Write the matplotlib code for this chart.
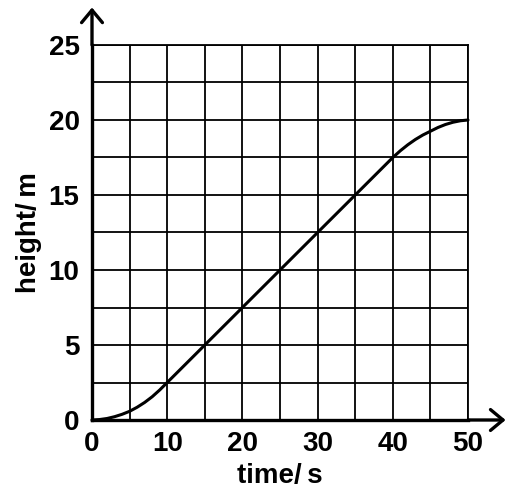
import matplotlib.pyplot as plt

# time (s) and height (m)
time = [0, 1, 2, 3, 4, 5, 6, 7, 8, 9, 10, 15, 20, 25, 30, 35, 40,
        41, 42, 43, 44, 45, 46, 47, 48, 49, 50]
height = [0, 0.03, 0.1, 0.22, 0.38, 0.58, 0.85, 1.17, 1.55, 2.0, 2.5, 5.0, 7.5, 10.0, 12.5, 15.0, 17.5,
          17.95, 18.35, 18.7, 19.0, 19.25, 19.5, 19.7, 19.85, 19.95, 20.0]

xticks = [0, 10, 20, 30, 40, 50]
yticks = [0, 5, 10, 15, 20, 25]

plt.rcParams['font.family'] = ['Liberation Sans', 'DejaVu Sans']
plt.rcParams['font.weight'] = 'bold'
plt.rcParams['axes.labelweight'] = 'bold'

fig = plt.figure(figsize=(5.11, 4.94), dpi=100)
ax = fig.add_axes([92 / 511, 74 / 494, 376 / 511, 375 / 494])

ax.plot(time, height, color='black', lw=2.2, solid_capstyle='round', clip_on=False, zorder=3)

ax.set_xlim(0, 50)
ax.set_ylim(0, 25)
ax.set_xticks(xticks, [str(v) for v in xticks])
ax.set_xticks(range(5, 50, 10), minor=True)
ax.set_yticks(yticks, [str(v) for v in yticks])
ax.set_yticks([2.5 + 5 * i for i in range(5)], minor=True)
ax.grid(True, which='both', color='black', lw=1.3)
ax.tick_params(which='both', length=0)
ax.tick_params(labelsize=20)
ax.tick_params(axis='x', pad=8)
ax.tick_params(axis='y', pad=9)

for s in ['top', 'right']:
    ax.spines[s].set_linewidth(1.3)
for s in ['left', 'bottom']:
    ax.spines[s].set_linewidth(2.4)

# arrows on the axes
head = '->,head_length=0.9,head_width=0.75'
ax.annotate('', xy=(1.1, 0), xytext=(1.0, 0), xycoords='axes fraction',
            arrowprops=dict(arrowstyle=head, lw=2.4, color='black', shrinkA=0, shrinkB=0))
ax.annotate('', xy=(0, 1.1), xytext=(0, 1.0), xycoords='axes fraction',
            arrowprops=dict(arrowstyle=head, lw=2.4, color='black', shrinkA=0, shrinkB=0))

ax.set_xlabel('time/\u2009s', fontsize=20, labelpad=4)
ax.set_ylabel('height/\u2009m', fontsize=20, labelpad=5)

fig.savefig('out.png', dpi=100)
